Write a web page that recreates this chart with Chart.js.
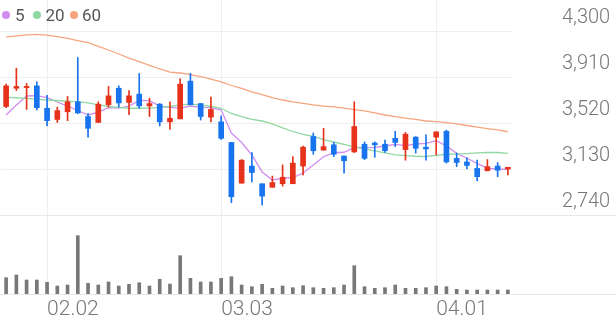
<!DOCTYPE html>
<html><head><meta charset="utf-8">
<script src="https://cdn.jsdelivr.net/npm/chart.js@4.4.1/dist/chart.umd.min.js"></script>
<style>
html,body{margin:0;padding:0;background:#fff;}
#wrap{position:relative;width:616px;height:321px;overflow:hidden;}
#legend{position:absolute;left:0;top:0;width:120px;height:30px;font-family:Roboto,sans-serif;font-size:17px;color:#555;}
#legend .dot{position:absolute;top:11px;width:8px;height:8px;border-radius:50%;}
#legend .txt{position:absolute;top:4px;line-height:22px;}
</style></head>
<body><div id="wrap"><canvas id="c" width="616" height="321"></canvas>
<div id="legend">
<span class="dot" style="left:2px;background:#d08ef0"></span><span class="txt" style="left:15px">5</span>
<span class="dot" style="left:33px;background:#90d9a3"></span><span class="txt" style="left:45.5px">20</span>
<span class="dot" style="left:69.5px;background:#f7a57f"></span><span class="txt" style="left:82px">60</span>
</div></div>
<script>
const labels = ['01.27','01.28','01.29','01.30',
 '02.02','02.03','02.04','02.05','02.06','02.09','02.10','02.11','02.12','02.13','02.19','02.20','02.23','02.24','02.25','02.26','02.27',
 '03.03','03.04','03.05','03.06','03.09','03.10','03.11','03.12','03.13','03.16','03.17','03.18','03.19','03.20','03.23','03.24','03.25','03.26','03.27','03.30','03.31',
 '04.01','04.02','04.03','04.06','04.07','04.08','04.09','04.10'];
const tickShown = ['02.02','03.03','04.01'];
const yTicks = [2740, 3130, 3520, 3910, 4300];

const open  = [3660,3815,3820,3835,3645,3550,3615,3700,3575,3525, 3675,3815,3695,3765,3665,3680,3530,3555,3875,3685, 3570,3530,3355,3010,3155,3005,2975,3005,3005,3155, 3405,3290,3335,3240,3275,3340,3350,3340,3390,3295, 3400,3315,3400,3450,3220,3190,3135,3115,3155,3130];
const high  = [3850,3985,3855,3870,3755,3655,3745,4075,3600,3700, 3830,3835,3795,3940,3730,3685,3700,3895,3940,3685, 3740,3580,3355,3210,3270,3005,3070,3165,3235,3325, 3435,3475,3355,3240,3700,3360,3360,3375,3450,3440, 3405,3420,3445,3460,3265,3225,3205,3210,3185,3145];
const low   = [3650,3795,3635,3630,3495,3525,3540,3600,3400,3525, 3655,3655,3590,3645,3575,3495,3465,3555,3675,3545, 3530,3380,2845,3010,3020,2825,2975,2985,3005,3080, 3255,3290,3235,3095,3270,3210,3230,3270,3320,3205, 3265,3205,3250,3180,3150,3130,3030,3115,3065,3080];
const close = [3835,3830,3830,3650,3540,3625,3700,3605,3475,3680, 3750,3690,3750,3665,3685,3530,3560,3850,3675,3575, 3635,3390,2895,3205,3100,2900,3015,3060,3180,3315, 3285,3320,3255,3200,3490,3220,3335,3285,3355,3425, 3305,3300,3445,3190,3185,3160,3065,3150,3120,3145];

const ma5  = [3588,3673,3749,3753,3736,3698,3664,3626,3588,3613, 3651,3647,3664,3711,3709,3664,3653,3647,3664,3653, 3651,3630,3435,3355,3249,3105,3037,3050,3058,3096, 3164,3234,3268,3272,3314,3311,3314,3325,3339,3329, 3342,3348,3370,3325,3263,3221,3178,3136,3130,3128];
const ma20 = [3738,3734,3729,3723,3715,3711,3705,3701,3690,3673, 3660,3652,3645,3645,3647,3652,3660,3673,3679,3673, 3660,3645,3601,3575,3550,3537,3512,3478,3448,3423, 3406,3380,3359,3338,3317,3300,3283,3266,3249,3243, 3238,3236,3245,3255,3257,3261,3266,3270,3270,3263];
const ma60 = [4249,4258,4268,4272,4266,4253,4238,4219,4201,4169, 4139,4105,4071,4041,4008,3978,3952,3944,3931,3914, 3893,3868,3838,3813,3785,3760,3735,3715,3700,3687, 3673,3664,3656,3647,3634,3622,3605,3588,3575,3562, 3550,3537,3531,3523,3512,3499,3486,3473,3461,3446];

const volume = [163000,190000,140000,140000,117000,80000,90000,583000,107000,90000,
 120000,80000,97000,113000,80000,147000,100000,383000,157000,120000,
 120000,157000,173000,90000,73000,97000,57000,80000,63000,83000,
 63000,57000,63000,90000,283000,73000,57000,63000,90000,57000,
 57000,63000,80000,73000,47000,40000,40000,40000,40000,40000];

const UP = '#e6321a', DOWN = '#1774ee';
const candleColors = close.map((c, i) => c >= open[i] ? UP : DOWN);
const xFont = {family: 'Roboto', size: 21, weight: '300'};
const yFont = {family: 'Roboto', size: 20, weight: '300'};

const fullLines = {
  id: 'fullLines',
  beforeDatasetsDraw(chart) {
    const c = chart.ctx;
    const ys = [chart.scales.y.getPixelForValue(yTicks[0]), chart.scales.v.getPixelForValue(0)];
    c.save();
    c.strokeStyle = '#e9e9e9';
    c.lineWidth = 1;
    ys.forEach(y => {
      const yy = Math.round(y) + 0.5;
      c.beginPath(); c.moveTo(0, yy); c.lineTo(chart.width, yy); c.stroke();
    });
    c.restore();
  }
};

new Chart(document.getElementById('c'), {
  type: 'bar',
  data: {
    labels,
    datasets: [
      {type: 'line', label: '60', data: ma60, borderColor: '#f7a57f', borderWidth: 1.3, pointRadius: 0, yAxisID: 'y', order: 3},
      {type: 'line', label: '20', data: ma20, borderColor: '#90d9a3', borderWidth: 1.3, pointRadius: 0, yAxisID: 'y', order: 3},
      {type: 'line', label: '5', data: ma5, borderColor: '#d08ef0', borderWidth: 1.3, pointRadius: 0, yAxisID: 'y', order: 3},
      {label: 'wick', data: low.map((l, i) => [l, high[i]]), backgroundColor: candleColors, barThickness: 1, grouped: false, yAxisID: 'y', order: 2},
      {label: 'body', data: open.map((o, i) => [o, close[i]]), backgroundColor: candleColors, barThickness: 5, minBarLength: 1, grouped: false, yAxisID: 'y', order: 1},
      {label: 'volume', data: volume, backgroundColor: '#787878', barThickness: 3, grouped: false, yAxisID: 'v', order: 1}
    ]
  },
  options: {
    responsive: false,
    animation: false,
    layout: {autoPadding: false, padding: {left: 1, top: 0, right: 0, bottom: 0}},
    plugins: {legend: {display: false}, tooltip: {enabled: false}},
    scales: {
      x: {
        offset: true,
        grid: {offset: false, drawTicks: false, lineWidth: 1,
          color: ctx => tickShown.includes(labels[ctx.index]) ? '#eeeeee' : 'rgba(0,0,0,0)'},
        border: {display: false},
        ticks: {autoSkip: false, maxRotation: 0, align: 'start', padding: 3, color: '#777', font: xFont,
          callback: (v, i) => tickShown.includes(labels[i]) ? labels[i] : ''},
        afterFit: s => { s.height = 27; }
      },
      y: {
        position: 'right', stack: 'main', stackWeight: 215,
        min: 2740, max: 4563,
        afterBuildTicks: s => { s.ticks = yTicks.map(v => ({value: v})); },
        grid: {color: '#eeeeee', drawTicks: false},
        border: {display: false},
        ticks: {autoSkip: false, padding: 49, labelOffset: -13, color: '#777', font: yFont,
          callback: v => Number(v).toLocaleString('en-US')},
        afterFit: s => { s.width = 103; s.paddingTop = 0; s.paddingBottom = 0; }
      },
      v: {
        position: 'right', stack: 'main', stackWeight: 79,
        min: 0, max: 790000,
        grid: {display: false},
        border: {display: false},
        ticks: {display: false},
        afterFit: s => { s.width = 103; s.paddingTop = 0; s.paddingBottom = 0; }
      }
    }
  },
  plugins: [fullLines]
});
</script>
</body></html>
